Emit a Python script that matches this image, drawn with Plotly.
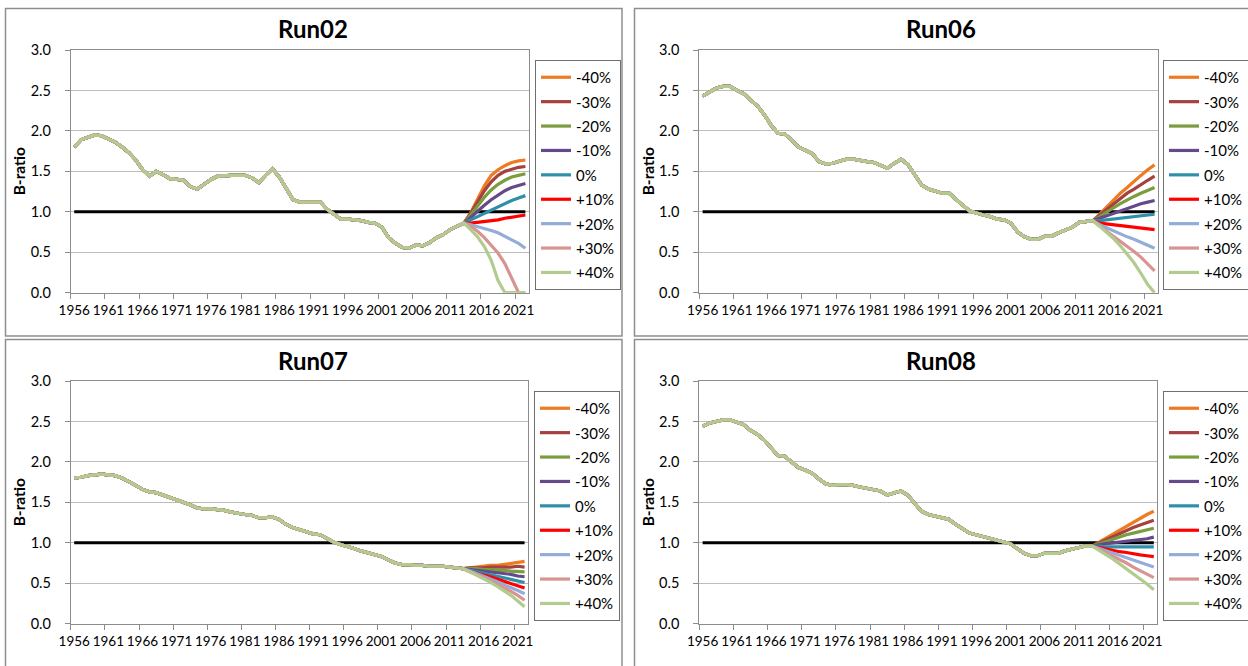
import plotly.graph_objects as go

# ---------------- data ----------------
years = list(range(1956, 2023))
scenarios = ["-40%", "-30%", "-20%", "-10%", "0%", "+10%", "+20%", "+30%", "+40%"]
colors = ["#EE7B22", "#A5423F", "#7A9D3D", "#65498A", "#2F8FAA",
          "#FF0000", "#93ADD8", "#D79490", "#B2CC8F"]
runs = ["Run02", "Run06", "Run07", "Run08"]

tick_years = list(range(1956, 2022, 5))
y_ticks = [0.0, 0.5, 1.0, 1.5, 2.0, 2.5, 3.0]
ref_value = 1.0

# historical B-ratio 1956-2012
hist_run02 = [1.80, 1.89, 1.92, 1.95, 1.94, 1.90, 1.86, 1.80, 1.73, 1.64,
              1.52, 1.44, 1.50, 1.46, 1.41, 1.40, 1.39, 1.31, 1.28, 1.34,
              1.40, 1.44, 1.45, 1.45, 1.45, 1.45, 1.42, 1.36, 1.45, 1.53,
              1.43, 1.29, 1.15, 1.12, 1.12, 1.12, 1.12, 1.03, 0.97, 0.91,
              0.91, 0.90, 0.89, 0.87, 0.86, 0.81, 0.68, 0.61, 0.56, 0.55,
              0.59, 0.58, 0.62, 0.68, 0.72, 0.78, 0.82]
hist_run06 = [2.43, 2.48, 2.53, 2.55, 2.55, 2.50, 2.46, 2.38, 2.31, 2.20,
              2.07, 1.97, 1.96, 1.89, 1.80, 1.76, 1.72, 1.62, 1.59, 1.60,
              1.63, 1.65, 1.65, 1.63, 1.62, 1.61, 1.58, 1.54, 1.60, 1.65,
              1.58, 1.45, 1.33, 1.28, 1.26, 1.23, 1.23, 1.15, 1.08, 1.01,
              0.98, 0.96, 0.94, 0.91, 0.90, 0.86, 0.75, 0.69, 0.66, 0.66,
              0.70, 0.70, 0.74, 0.78, 0.81, 0.87, 0.88]
hist_run07 = [1.80, 1.81, 1.83, 1.84, 1.85, 1.84, 1.83, 1.80, 1.76, 1.71,
              1.66, 1.63, 1.62, 1.59, 1.56, 1.53, 1.51, 1.47, 1.43, 1.42,
              1.42, 1.41, 1.40, 1.38, 1.36, 1.35, 1.34, 1.31, 1.31, 1.32,
              1.29, 1.23, 1.19, 1.16, 1.14, 1.11, 1.10, 1.05, 1.01, 0.98,
              0.96, 0.93, 0.90, 0.88, 0.86, 0.83, 0.79, 0.75, 0.73, 0.73,
              0.72, 0.72, 0.71, 0.71, 0.71, 0.70, 0.69]
hist_run08 = [2.44, 2.48, 2.50, 2.52, 2.52, 2.49, 2.46, 2.39, 2.34, 2.27,
              2.18, 2.08, 2.07, 2.00, 1.93, 1.90, 1.86, 1.79, 1.73, 1.71,
              1.72, 1.72, 1.71, 1.69, 1.67, 1.66, 1.64, 1.59, 1.61, 1.64,
              1.59, 1.49, 1.39, 1.35, 1.33, 1.31, 1.29, 1.23, 1.17, 1.12,
              1.10, 1.08, 1.06, 1.03, 1.01, 0.99, 0.93, 0.87, 0.84, 0.84,
              0.87, 0.87, 0.87, 0.90, 0.92, 0.94, 0.96]

# projections 2013-2022, one list per scenario (order of `scenarios`)
proj_run02 = [
    [0.86, 0.99, 1.16, 1.32, 1.45, 1.52, 1.57, 1.61, 1.63, 1.64],
    [0.86, 0.98, 1.12, 1.26, 1.37, 1.45, 1.50, 1.53, 1.55, 1.56],
    [0.86, 0.96, 1.07, 1.18, 1.27, 1.34, 1.39, 1.43, 1.45, 1.47],
    [0.86, 0.93, 1.01, 1.08, 1.15, 1.21, 1.26, 1.30, 1.33, 1.35],
    [0.86, 0.90, 0.95, 0.99, 1.03, 1.07, 1.11, 1.14, 1.17, 1.20],
    [0.86, 0.86, 0.87, 0.88, 0.89, 0.90, 0.92, 0.93, 0.95, 0.96],
    [0.86, 0.84, 0.82, 0.80, 0.77, 0.74, 0.70, 0.66, 0.61, 0.55],
    [0.86, 0.82, 0.76, 0.68, 0.59, 0.49, 0.36, 0.18, 0.00, 0.00],
    [0.86, 0.78, 0.69, 0.57, 0.40, 0.15, 0.00, 0.00, 0.00, 0.00],
]
proj_run06 = [
    [0.89, 0.97, 1.06, 1.14, 1.23, 1.30, 1.38, 1.45, 1.52, 1.58],
    [0.89, 0.96, 1.03, 1.10, 1.16, 1.23, 1.28, 1.34, 1.39, 1.44],
    [0.89, 0.94, 1.00, 1.05, 1.10, 1.15, 1.19, 1.23, 1.27, 1.30],
    [0.89, 0.92, 0.95, 0.99, 1.02, 1.05, 1.08, 1.10, 1.12, 1.14],
    [0.89, 0.89, 0.90, 0.91, 0.92, 0.93, 0.94, 0.95, 0.96, 0.97],
    [0.89, 0.86, 0.85, 0.84, 0.83, 0.82, 0.81, 0.80, 0.79, 0.78],
    [0.89, 0.84, 0.80, 0.76, 0.73, 0.69, 0.66, 0.62, 0.59, 0.55],
    [0.89, 0.82, 0.76, 0.70, 0.64, 0.57, 0.51, 0.44, 0.36, 0.27],
    [0.89, 0.82, 0.75, 0.67, 0.58, 0.48, 0.37, 0.24, 0.10, 0.00],
]
proj_run07 = [
    [0.68, 0.69, 0.70, 0.71, 0.72, 0.72, 0.73, 0.75, 0.76, 0.77],
    [0.68, 0.69, 0.69, 0.69, 0.70, 0.70, 0.70, 0.70, 0.71, 0.70],
    [0.68, 0.68, 0.68, 0.67, 0.67, 0.66, 0.66, 0.65, 0.65, 0.64],
    [0.68, 0.67, 0.66, 0.65, 0.64, 0.63, 0.62, 0.61, 0.59, 0.58],
    [0.68, 0.66, 0.64, 0.62, 0.61, 0.59, 0.57, 0.55, 0.53, 0.51],
    [0.68, 0.65, 0.63, 0.60, 0.58, 0.55, 0.52, 0.50, 0.47, 0.44],
    [0.68, 0.65, 0.62, 0.59, 0.55, 0.52, 0.48, 0.45, 0.41, 0.37],
    [0.68, 0.64, 0.61, 0.57, 0.53, 0.49, 0.45, 0.40, 0.35, 0.29],
    [0.68, 0.64, 0.60, 0.56, 0.51, 0.46, 0.41, 0.35, 0.28, 0.21],
]
proj_run08 = [
    [0.96, 1.01, 1.06, 1.11, 1.16, 1.21, 1.26, 1.30, 1.35, 1.39],
    [0.96, 1.00, 1.04, 1.08, 1.12, 1.16, 1.19, 1.22, 1.25, 1.28],
    [0.96, 0.99, 1.02, 1.05, 1.08, 1.10, 1.12, 1.14, 1.16, 1.18],
    [0.96, 0.98, 0.99, 1.00, 1.01, 1.02, 1.03, 1.04, 1.05, 1.07],
    [0.96, 0.96, 0.95, 0.95, 0.95, 0.95, 0.95, 0.95, 0.95, 0.95],
    [0.96, 0.94, 0.92, 0.91, 0.89, 0.88, 0.86, 0.85, 0.84, 0.83],
    [0.96, 0.93, 0.90, 0.87, 0.84, 0.81, 0.78, 0.76, 0.73, 0.70],
    [0.96, 0.92, 0.88, 0.83, 0.79, 0.75, 0.70, 0.66, 0.61, 0.57],
    [0.96, 0.91, 0.86, 0.80, 0.74, 0.68, 0.62, 0.56, 0.49, 0.42],
]

hists = [hist_run02, hist_run06, hist_run07, hist_run08]
projs = [proj_run02, proj_run06, proj_run07, proj_run08]

# ---------------- layout geometry (pixels) ----------------
W, H = 1248, 666
FONT = "Lato"
AX_COL = "#8C8C8C"
GRID_COL = "#BDBDBD"
FRAME_COL = "#8E8E8E"

plot_boxes = [  # left, right, top, bottom
    (70.8, 528.8, 50.0, 292.7),
    (699.2, 1158.0, 50.0, 292.7),
    (70.8, 528.0, 381.0, 623.7),
    (699.2, 1157.2, 381.0, 623.7),
]
frames = [
    (5.5, 622.0, 8.5, 336.0),
    (634.5, 1252.0, 8.5, 336.0),
    (5.5, 622.0, 339.5, 670.0),
    (634.5, 1252.0, 339.5, 670.0),
]
legend_pos = [(535.0, 60.0), (1163.0, 60.0), (534.0, 391.0), (1163.0, 391.0)]
title_pos = [(313.0, 29.0), (941.0, 29.0), (313.0, 360.0), (941.0, 360.0)]
ylab_x = [19.0, 648.0, 19.0, 648.0]


def fx(x):
    return x / W


def fy(y):
    return 1 - y / H


fig = go.Figure()
layout = dict(
    width=W, height=H,
    margin=dict(l=0, r=0, t=0, b=0, autoexpand=False),
    paper_bgcolor="white", plot_bgcolor="white",
    font=dict(family=FONT, size=14, color="#000000"),
    annotations=[], shapes=[],
)

for k in range(4):
    n = k + 1
    sx = "" if n == 1 else str(n)
    l, r, t, b = plot_boxes[k]
    xa, ya = "x" + sx, "y" + sx
    leg = "legend" + sx

    # reference line at B-ratio = 1
    fig.add_trace(go.Scatter(
        x=years, y=[ref_value] * len(years), mode="lines",
        line=dict(color="#000000", width=3), showlegend=False,
        hoverinfo="skip", xaxis=xa, yaxis=ya))

    for s, name in enumerate(scenarios):
        series = hists[k] + projs[k][s]
        fig.add_trace(go.Scatter(
            x=years, y=series, mode="lines", name=name,
            line=dict(color=colors[s], width=3.2),
            xaxis=xa, yaxis=ya, legend=leg,
            legendgroup=f"{runs[k]}_{name}"))

    layout["xaxis" + sx] = dict(
        domain=[fx(l), fx(r)], anchor=ya, range=[1955.5, 2022.5],
        tickmode="array", tickvals=tick_years,
        ticktext=[str(v) for v in tick_years], ticks="", tickangle=0,
        tickfont=dict(family=FONT, size=13.5, color="#000000"),
        ticklabelstandoff=5,
        showline=True, linecolor=AX_COL, linewidth=1, mirror=True,
        showgrid=False, zeroline=False, fixedrange=True,
        minor=dict(tickmode="array", tickvals=[v - 0.5 for v in tick_years],
                   ticks="outside", ticklen=5, tickcolor=AX_COL, tickwidth=1,
                   showgrid=False),
    )
    layout["yaxis" + sx] = dict(
        domain=[fy(b), fy(t)], anchor=xa, range=[0, 3],
        tickmode="array", tickvals=y_ticks,
        ticktext=[f"{v:.1f}" for v in y_ticks],
        ticks="outside", ticklen=5, tickcolor=AX_COL, tickwidth=1,
        tickfont=dict(family=FONT, size=14.5, color="#000000"),
        ticklabelstandoff=11,
        showline=True, linecolor=AX_COL, linewidth=1, mirror=True,
        showgrid=True, gridcolor=GRID_COL, gridwidth=1,
        zeroline=False, fixedrange=True,
    )
    lx, ly = legend_pos[k]
    layout[leg] = dict(
        x=fx(lx), y=fy(ly), xanchor="left", yanchor="top",
        xref="paper", yref="paper",
        bgcolor="white", bordercolor="#6F6F6F", borderwidth=1,
        font=dict(family=FONT, size=15, color="#000000"),
        tracegroupgap=1.9, itemwidth=30, traceorder="grouped",
    )
    tx, ty = title_pos[k]
    layout["annotations"].append(dict(
        text=f"<b>{runs[k]}</b>", x=fx(tx), y=fy(ty), xref="paper", yref="paper",
        xanchor="center", yanchor="middle", showarrow=False,
        font=dict(family=FONT, size=24, color="#000000")))
    layout["annotations"].append(dict(
        text="<b>B-ratio</b>", x=fx(ylab_x[k]), y=fy((t + b) / 2),
        xref="paper", yref="paper", xanchor="center", yanchor="middle",
        textangle=-90, showarrow=False,
        font=dict(family=FONT, size=15.5, color="#000000")))
    x0, x1, y0, y1 = frames[k]
    layout["shapes"].append(dict(
        type="rect", xref="paper", yref="paper",
        x0=fx(x0), x1=fx(x1), y0=fy(y1), y1=fy(y0),
        line=dict(color=FRAME_COL, width=1.5), fillcolor="rgba(0,0,0,0)",
        layer="below"))

fig.update_layout(**layout)
fig.write_html("out.html",
               config={"displayModeBar": False, "staticPlot": False},
               post_script="document.body.style.margin='0';"
                           "document.body.style.overflow='hidden';")
